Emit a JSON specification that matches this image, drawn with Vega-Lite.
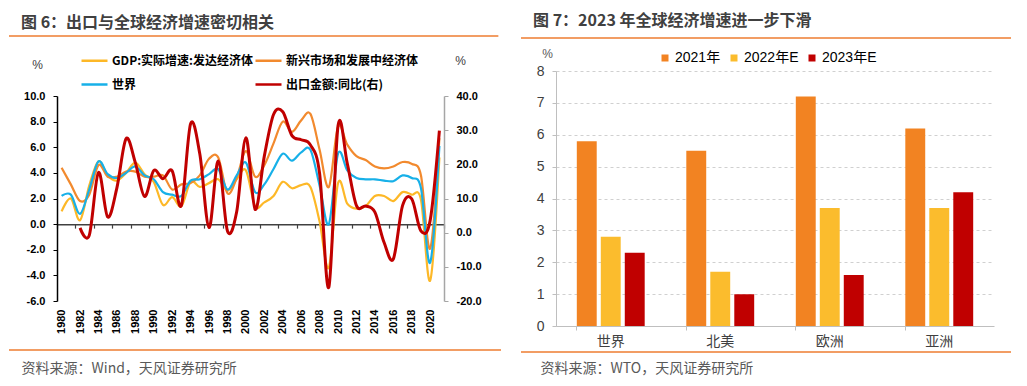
{
  "$schema": "https://vega.github.io/schema/vega-lite/v6.json",
  "background": "white",
  "padding": {"left": 8, "top": 13, "right": 5, "bottom": 5},
  "config": {"view": {"stroke": null}, "axis": {"grid": false}, "font": "Noto Sans CJK SC"},
  "resolve": {"scale": {"color": "independent"}, "legend": {"color": "independent"}},
  "hconcat": [
    {
      "width": 387,
      "height": 205,
      "title": {"text": "图 6：出口与全球经济增速密切相关", "anchor": "start", "frame": "group", "dx": -36, "offset": 4, "fontSize": 16, "fontWeight": "bold", "font": "Noto Sans CJK SC", "color": "#404040"},
      "layer": [
        {
          "data": {"name": "gdp"},
          "mark": {"type": "line", "interpolate": "cardinal", "strokeWidth": 2.2},
          "encoding": {
            "x": {"field": "year", "type": "quantitative", "scale": {"domain": [1979.5, 2021.5], "nice": false, "zero": false},
              "axis": {"orient": "bottom", "values": [1980,1982,1984,1986,1988,1990,1992,1994,1996,1998,2000,2002,2004,2006,2008,2010,2012,2014,2016,2018,2020], "format": "d", "labelAngle": -90, "domain": false, "ticks": false, "tickSize": 0, "labelPadding": 8, "labelFont": "Liberation Sans", "labelFontWeight": "bold", "labelFontSize": 11, "labelColor": "#000000",
                "title": "资料来源：Wind，天风证券研究所", "titleX": -36, "titleY": 67, "titleAnchor": "start", "titleAlign": "left", "titleBaseline": "middle", "titleFont": "Noto Sans CJK SC", "titleFontSize": 14, "titleFontWeight": "normal", "titleColor": "#595959"}},
            "y": {"field": "v", "type": "quantitative", "scale": {"domain": [-6, 10], "nice": false},
              "axis": {"orient": "left", "values": [-6,-4,-2,0,2,4,6,8,10], "labelExpr": "replace(format(datum.value, '.1f'), '−', '-')", "domainColor": "#000000", "domainWidth": 1.5, "tickColor": "#000000", "tickSize": 4, "labelPadding": 8, "labelFont": "Liberation Sans", "labelFontWeight": "bold", "labelFontSize": 11, "labelColor": "#000000",
                "title": "%", "titleAngle": 0, "titleX": -20, "titleY": -32, "titleAlign": "center", "titleBaseline": "middle", "titleFont": "Liberation Sans", "titleFontSize": 12, "titleFontWeight": "normal", "titleColor": "#404040"}},
            "color": {"field": "s", "type": "nominal",
              "scale": {"domain": ["GDP:实际增速:发达经济体", "新兴市场和发展中经济体", "世界", "出口金额:同比(右)"], "range": ["#FDB827", "#F28A2E", "#17B0E8", "#C00000"]},
              "legend": {"orient": "none", "legendX": 23, "legendY": -50, "columns": 2, "direction": "horizontal", "title": null, "symbolType": "stroke", "symbolSize": 676, "symbolStrokeWidth": 2.5, "labelFont": "Noto Sans CJK SC", "labelFontSize": 12, "labelFontWeight": "bold", "labelColor": "#000000", "labelOffset": 3, "columnPadding": -3, "rowPadding": 3, "labelLimit": 300, "padding": 0}}
          }
        },
        {
          "data": {"values": [{}]},
          "mark": {"type": "rule", "color": "#EE7D31", "strokeWidth": 1.5},
          "encoding": {
            "x": {"datum": 1974.29, "type": "quantitative", "scale": {"domain": [1979.5, 2021.5], "nice": false, "zero": false}, "axis": null},
            "x2": {"datum": 2027.4},
            "y": {"datum": 14.6875, "type": "quantitative", "scale": {"domain": [-6, 10], "nice": false}, "axis": null}
          }
        },
        {
          "data": {"values": [{}]},
          "mark": {"type": "rule", "color": "#EE7D31", "strokeWidth": 1.5},
          "encoding": {
            "x": {"datum": 1974.29, "type": "quantitative", "scale": {"domain": [1979.5, 2021.5], "nice": false, "zero": false}, "axis": null},
            "x2": {"datum": 2027.69},
            "y": {"datum": -9.83, "type": "quantitative", "scale": {"domain": [-6, 10], "nice": false}, "axis": null}
          }
        },
        {
          "data": {"name": "exp"},
          "mark": {"type": "line", "interpolate": "cardinal", "strokeWidth": 3},
          "encoding": {
            "x": {"field": "year", "type": "quantitative", "scale": {"domain": [1979.5, 2021.5], "nice": false, "zero": false},
              "axis": {"orient": "bottom", "offset": -76.875, "values": [1979.5,1981.5,1983.5,1985.5,1987.5,1989.5,1991.5,1993.5,1995.5,1997.5,1999.5,2001.5,2003.5,2005.5,2007.5,2009.5,2011.5,2013.5,2015.5,2017.5,2019.5,2021.5], "labels": false, "domain": true, "domainColor": "#404040", "domainWidth": 1.5, "ticks": true, "tickColor": "#404040", "tickSize": 4, "tickWidth": 1.2, "title": null, "grid": false}},
            "y": {"field": "v", "type": "quantitative", "scale": {"domain": [-20, 40], "nice": false},
              "axis": {"orient": "right", "values": [-20,-10,0,10,20,30,40], "labelExpr": "replace(format(datum.value, '.1f'), '−', '-')", "domainColor": "#a6a6a6", "domainWidth": 1.5, "tickColor": "#a6a6a6", "tickSize": 4, "labelPadding": 8, "labelFont": "Liberation Sans", "labelFontWeight": "bold", "labelFontSize": 11, "labelColor": "#000000",
                "title": "%", "titleAngle": 0, "titleX": 16, "titleY": -36, "titleAlign": "center", "titleBaseline": "middle", "titleFont": "Liberation Sans", "titleFontSize": 12, "titleFontWeight": "normal", "titleColor": "#404040"}},
            "color": {"field": "s", "type": "nominal",
              "scale": {"domain": ["GDP:实际增速:发达经济体", "新兴市场和发展中经济体", "世界", "出口金额:同比(右)"], "range": ["#FDB827", "#F28A2E", "#17B0E8", "#C00000"]},
              "legend": {"orient": "none", "legendX": 23, "legendY": -50, "columns": 2, "direction": "horizontal", "title": null, "symbolType": "stroke", "symbolSize": 676, "symbolStrokeWidth": 2.5, "labelFont": "Noto Sans CJK SC", "labelFontSize": 12, "labelFontWeight": "bold", "labelColor": "#000000", "labelOffset": 3, "columnPadding": -3, "rowPadding": 3, "labelLimit": 300, "padding": 0}}
          }
        }
      ],
      "resolve": {"scale": {"y": "independent"}, "axis": {"x": "independent"}}
    },
    {
      "width": 438,
      "height": 255,
      "title": {"text": "图 7：2023 年全球经济增速进一步下滑", "anchor": "start", "frame": "group", "dx": -23, "offset": 8, "fontSize": 16, "fontWeight": "bold", "font": "Noto Sans CJK SC", "color": "#404040"},
      "layer": [
        {
          "data": {"name": "wto"},
          "mark": {"type": "bar"},
          "encoding": {
            "x": {"field": "region", "type": "nominal", "sort": ["世界", "北美", "欧洲", "亚洲"], "scale": {"paddingInner": 0.38, "paddingOuter": 0.19},
              "axis": {"labelAngle": 0, "bandPosition": 0, "domainColor": "#bfbfbf", "tickColor": "#bfbfbf", "tickSize": 4, "labelPadding": 4, "labelFont": "Noto Sans CJK SC", "labelFontSize": 14, "labelColor": "#404040",
                "title": "资料来源：WTO，天风证券研究所", "titleX": -16, "titleY": 42, "titleAnchor": "start", "titleAlign": "left", "titleBaseline": "middle", "titleFont": "Noto Sans CJK SC", "titleFontSize": 14, "titleFontWeight": "normal", "titleColor": "#595959"}},
            "xOffset": {"field": "year", "type": "nominal", "sort": ["2021年", "2022年E", "2023年E"], "scale": {"paddingInner": 0.17, "paddingOuter": 0}},
            "y": {"field": "value", "type": "quantitative", "scale": {"domain": [0, 8], "nice": false},
              "axis": {"values": [0,1,2,3,4,5,6,7,8], "grid": true, "gridColor": "#d0d0d0", "gridDash": [3, 3], "domainColor": "#bfbfbf", "tickColor": "#bfbfbf", "tickSize": 4, "labelPadding": 8, "labelFont": "Liberation Sans", "labelFontSize": 14, "labelColor": "#404040",
                "title": "%", "titleAngle": 0, "titleX": -9, "titleY": -18, "titleAlign": "center", "titleBaseline": "middle", "titleFont": "Liberation Sans", "titleFontSize": 12, "titleFontWeight": "normal", "titleColor": "#595959"}},
            "color": {"field": "year", "type": "nominal", "sort": ["2021年", "2022年E", "2023年E"],
              "scale": {"domain": ["2021年", "2022年E", "2023年E"], "range": ["#F28322", "#FBBC2D", "#C00000"]},
              "legend": {"orient": "none", "legendX": 102, "legendY": -20, "direction": "horizontal", "title": null, "symbolType": "square", "symbolSize": 49, "symbolStrokeWidth": 0, "labelFont": "Liberation Sans, Noto Sans CJK SC", "labelFontSize": 14, "labelColor": "#000000", "labelOffset": 3, "columnPadding": 6, "padding": 0}}
          }
        },
        {
          "data": {"values": [{}]},
          "mark": {"type": "rule", "color": "#EE7D31", "strokeWidth": 1.5},
          "encoding": {
            "x": {"datum": -0.0799, "type": "quantitative", "scale": {"domain": [0, 1], "nice": false, "zero": false}, "axis": null},
            "x2": {"datum": 1.0388},
            "y": {"datum": 9.035, "type": "quantitative", "scale": {"domain": [0, 8], "nice": false},
              "axis": {"values": [0,1,2,3,4,5,6,7,8], "grid": true, "gridColor": "#d0d0d0", "gridDash": [3, 3], "domainColor": "#bfbfbf", "tickColor": "#bfbfbf", "tickSize": 4, "labelPadding": 8, "labelFont": "Liberation Sans", "labelFontSize": 14, "labelColor": "#404040",
                "title": "%", "titleAngle": 0, "titleX": -9, "titleY": -18, "titleAlign": "center", "titleBaseline": "middle", "titleFont": "Liberation Sans", "titleFontSize": 12, "titleFontWeight": "normal", "titleColor": "#595959"}}
          }
        },
        {
          "data": {"values": [{}]},
          "mark": {"type": "rule", "color": "#EE7D31", "strokeWidth": 1.5},
          "encoding": {
            "x": {"datum": -0.0799, "type": "quantitative", "scale": {"domain": [0, 1], "nice": false, "zero": false}, "axis": null},
            "x2": {"datum": 1.0388},
            "y": {"datum": -0.816, "type": "quantitative", "scale": {"domain": [0, 8], "nice": false},
              "axis": {"values": [0,1,2,3,4,5,6,7,8], "grid": true, "gridColor": "#d0d0d0", "gridDash": [3, 3], "domainColor": "#bfbfbf", "tickColor": "#bfbfbf", "tickSize": 4, "labelPadding": 8, "labelFont": "Liberation Sans", "labelFontSize": 14, "labelColor": "#404040",
                "title": "%", "titleAngle": 0, "titleX": -9, "titleY": -18, "titleAlign": "center", "titleBaseline": "middle", "titleFont": "Liberation Sans", "titleFontSize": 12, "titleFontWeight": "normal", "titleColor": "#595959"}}
          }
        }
      ],
      "resolve": {"scale": {"x": "independent"}}
    }
  ],
  "spacing": 112,
  "bounds": "flush",
  "center": true,
  "datasets": {
    "wto": [
      {"region": "世界", "year": "2021年", "value": 5.8},
      {"region": "世界", "year": "2022年E", "value": 2.8},
      {"region": "世界", "year": "2023年E", "value": 2.3},
      {"region": "北美", "year": "2021年", "value": 5.5},
      {"region": "北美", "year": "2022年E", "value": 1.7},
      {"region": "北美", "year": "2023年E", "value": 1.0},
      {"region": "欧洲", "year": "2021年", "value": 7.2},
      {"region": "欧洲", "year": "2022年E", "value": 3.7},
      {"region": "欧洲", "year": "2023年E", "value": 1.6},
      {"region": "亚洲", "year": "2021年", "value": 6.2},
      {"region": "亚洲", "year": "2022年E", "value": 3.7},
      {"region": "亚洲", "year": "2023年E", "value": 4.2}
    ],
    "exp": [
      {"year": 1982, "s": "出口金额:同比(右)", "v": 1.4},
      {"year": 1983, "s": "出口金额:同比(右)", "v": -0.8},
      {"year": 1984, "s": "出口金额:同比(右)", "v": 17.6},
      {"year": 1985, "s": "出口金额:同比(右)", "v": 4.6},
      {"year": 1986, "s": "出口金额:同比(右)", "v": 13.1},
      {"year": 1987, "s": "出口金额:同比(右)", "v": 27.5},
      {"year": 1988, "s": "出口金额:同比(右)", "v": 20.5},
      {"year": 1989, "s": "出口金额:同比(右)", "v": 10.6},
      {"year": 1990, "s": "出口金额:同比(右)", "v": 18.2},
      {"year": 1991, "s": "出口金额:同比(右)", "v": 15.8},
      {"year": 1992, "s": "出口金额:同比(右)", "v": 18.1},
      {"year": 1993, "s": "出口金额:同比(右)", "v": 8.0},
      {"year": 1994, "s": "出口金额:同比(右)", "v": 31.9},
      {"year": 1995, "s": "出口金额:同比(右)", "v": 23.0},
      {"year": 1996, "s": "出口金额:同比(右)", "v": 1.5},
      {"year": 1997, "s": "出口金额:同比(右)", "v": 21.0},
      {"year": 1998, "s": "出口金额:同比(右)", "v": 0.5},
      {"year": 1999, "s": "出口金额:同比(右)", "v": 6.1},
      {"year": 2000, "s": "出口金额:同比(右)", "v": 27.8},
      {"year": 2001, "s": "出口金额:同比(右)", "v": 6.8},
      {"year": 2002, "s": "出口金额:同比(右)", "v": 22.4},
      {"year": 2003, "s": "出口金额:同比(右)", "v": 34.6},
      {"year": 2004, "s": "出口金额:同比(右)", "v": 35.4},
      {"year": 2005, "s": "出口金额:同比(右)", "v": 28.4},
      {"year": 2006, "s": "出口金额:同比(右)", "v": 27.2},
      {"year": 2007, "s": "出口金额:同比(右)", "v": 25.7},
      {"year": 2008, "s": "出口金额:同比(右)", "v": 17.3},
      {"year": 2009, "s": "出口金额:同比(右)", "v": -16.0},
      {"year": 2010, "s": "出口金额:同比(右)", "v": 31.3},
      {"year": 2011, "s": "出口金额:同比(右)", "v": 20.3},
      {"year": 2012, "s": "出口金额:同比(右)", "v": 7.9},
      {"year": 2013, "s": "出口金额:同比(右)", "v": 7.8},
      {"year": 2014, "s": "出口金额:同比(右)", "v": 6.0},
      {"year": 2015, "s": "出口金额:同比(右)", "v": -2.9},
      {"year": 2016, "s": "出口金额:同比(右)", "v": -7.7},
      {"year": 2017, "s": "出口金额:同比(右)", "v": 7.9},
      {"year": 2018, "s": "出口金额:同比(右)", "v": 9.9},
      {"year": 2019, "s": "出口金额:同比(右)", "v": 0.5},
      {"year": 2020, "s": "出口金额:同比(右)", "v": 3.6},
      {"year": 2021, "s": "出口金额:同比(右)", "v": 29.9}
    ],
    "gdp": [
      {"year": 1980, "s": "GDP:实际增速:发达经济体", "v": 1.0},
      {"year": 1981, "s": "GDP:实际增速:发达经济体", "v": 2.0},
      {"year": 1982, "s": "GDP:实际增速:发达经济体", "v": 0.3},
      {"year": 1983, "s": "GDP:实际增速:发达经济体", "v": 3.0},
      {"year": 1984, "s": "GDP:实际增速:发达经济体", "v": 4.9},
      {"year": 1985, "s": "GDP:实际增速:发达经济体", "v": 3.8},
      {"year": 1986, "s": "GDP:实际增速:发达经济体", "v": 3.4},
      {"year": 1987, "s": "GDP:实际增速:发达经济体", "v": 4.0},
      {"year": 1988, "s": "GDP:实际增速:发达经济体", "v": 4.8},
      {"year": 1989, "s": "GDP:实际增速:发达经济体", "v": 3.9},
      {"year": 1990, "s": "GDP:实际增速:发达经济体", "v": 3.3},
      {"year": 1991, "s": "GDP:实际增速:发达经济体", "v": 1.5},
      {"year": 1992, "s": "GDP:实际增速:发达经济体", "v": 2.1},
      {"year": 1993, "s": "GDP:实际增速:发达经济体", "v": 1.4},
      {"year": 1994, "s": "GDP:实际增速:发达经济体", "v": 3.3},
      {"year": 1995, "s": "GDP:实际增速:发达经济体", "v": 2.9},
      {"year": 1996, "s": "GDP:实际增速:发达经济体", "v": 3.2},
      {"year": 1997, "s": "GDP:实际增速:发达经济体", "v": 3.5},
      {"year": 1998, "s": "GDP:实际增速:发达经济体", "v": 2.6},
      {"year": 1999, "s": "GDP:实际增速:发达经济体", "v": 3.5},
      {"year": 2000, "s": "GDP:实际增速:发达经济体", "v": 4.2},
      {"year": 2001, "s": "GDP:实际增速:发达经济体", "v": 1.4},
      {"year": 2002, "s": "GDP:实际增速:发达经济体", "v": 1.7},
      {"year": 2003, "s": "GDP:实际增速:发达经济体", "v": 2.2},
      {"year": 2004, "s": "GDP:实际增速:发达经济体", "v": 3.3},
      {"year": 2005, "s": "GDP:实际增速:发达经济体", "v": 2.8},
      {"year": 2006, "s": "GDP:实际增速:发达经济体", "v": 3.05},
      {"year": 2007, "s": "GDP:实际增速:发达经济体", "v": 2.9},
      {"year": 2008, "s": "GDP:实际增速:发达经济体", "v": 0.2},
      {"year": 2009, "s": "GDP:实际增速:发达经济体", "v": -3.4},
      {"year": 2010, "s": "GDP:实际增速:发达经济体", "v": 3.2},
      {"year": 2011, "s": "GDP:实际增速:发达经济体", "v": 1.6},
      {"year": 2012, "s": "GDP:实际增速:发达经济体", "v": 1.2},
      {"year": 2013, "s": "GDP:实际增速:发达经济体", "v": 1.4},
      {"year": 2014, "s": "GDP:实际增速:发达经济体", "v": 2.2},
      {"year": 2015, "s": "GDP:实际增速:发达经济体", "v": 2.2},
      {"year": 2016, "s": "GDP:实际增速:发达经济体", "v": 1.8},
      {"year": 2017, "s": "GDP:实际增速:发达经济体", "v": 2.5},
      {"year": 2018, "s": "GDP:实际增速:发达经济体", "v": 2.3},
      {"year": 2019, "s": "GDP:实际增速:发达经济体", "v": 1.9},
      {"year": 2020, "s": "GDP:实际增速:发达经济体", "v": -4.4},
      {"year": 2021, "s": "GDP:实际增速:发达经济体", "v": 5.2},
      {"year": 1980, "s": "新兴市场和发展中经济体", "v": 4.4},
      {"year": 1981, "s": "新兴市场和发展中经济体", "v": 3.1},
      {"year": 1982, "s": "新兴市场和发展中经济体", "v": 1.8},
      {"year": 1983, "s": "新兴市场和发展中经济体", "v": 2.3},
      {"year": 1984, "s": "新兴市场和发展中经济体", "v": 4.6},
      {"year": 1985, "s": "新兴市场和发展中经济体", "v": 3.7},
      {"year": 1986, "s": "新兴市场和发展中经济体", "v": 3.7},
      {"year": 1987, "s": "新兴市场和发展中经济体", "v": 4.1},
      {"year": 1988, "s": "新兴市场和发展中经济体", "v": 4.1},
      {"year": 1989, "s": "新兴市场和发展中经济体", "v": 3.7},
      {"year": 1990, "s": "新兴市场和发展中经济体", "v": 3.7},
      {"year": 1991, "s": "新兴市场和发展中经济体", "v": 3.8},
      {"year": 1992, "s": "新兴市场和发展中经济体", "v": 2.7},
      {"year": 1993, "s": "新兴市场和发展中经济体", "v": 3.1},
      {"year": 1994, "s": "新兴市场和发展中经济体", "v": 3.2},
      {"year": 1995, "s": "新兴市场和发展中经济体", "v": 3.8},
      {"year": 1996, "s": "新兴市场和发展中经济体", "v": 5.1},
      {"year": 1997, "s": "新兴市场和发展中经济体", "v": 5.2},
      {"year": 1998, "s": "新兴市场和发展中经济体", "v": 2.4},
      {"year": 1999, "s": "新兴市场和发展中经济体", "v": 3.6},
      {"year": 2000, "s": "新兴市场和发展中经济体", "v": 5.7},
      {"year": 2001, "s": "新兴市场和发展中经济体", "v": 3.7},
      {"year": 2002, "s": "新兴市场和发展中经济体", "v": 4.6},
      {"year": 2003, "s": "新兴市场和发展中经济体", "v": 6.3},
      {"year": 2004, "s": "新兴市场和发展中经济体", "v": 8.0},
      {"year": 2005, "s": "新兴市场和发展中经济体", "v": 7.2},
      {"year": 2006, "s": "新兴市场和发展中经济体", "v": 8.1},
      {"year": 2007, "s": "新兴市场和发展中经济体", "v": 8.6},
      {"year": 2008, "s": "新兴市场和发展中经济体", "v": 5.8},
      {"year": 2009, "s": "新兴市场和发展中经济体", "v": 2.9},
      {"year": 2010, "s": "新兴市场和发展中经济体", "v": 7.6},
      {"year": 2011, "s": "新兴市场和发展中经济体", "v": 6.2},
      {"year": 2012, "s": "新兴市场和发展中经济体", "v": 5.3},
      {"year": 2013, "s": "新兴市场和发展中经济体", "v": 5.0},
      {"year": 2014, "s": "新兴市场和发展中经济体", "v": 4.5},
      {"year": 2015, "s": "新兴市场和发展中经济体", "v": 4.35},
      {"year": 2016, "s": "新兴市场和发展中经济体", "v": 4.5},
      {"year": 2017, "s": "新兴市场和发展中经济体", "v": 4.85},
      {"year": 2018, "s": "新兴市场和发展中经济体", "v": 4.7},
      {"year": 2019, "s": "新兴市场和发展中经济体", "v": 3.8},
      {"year": 2020, "s": "新兴市场和发展中经济体", "v": -1.9},
      {"year": 2021, "s": "新兴市场和发展中经济体", "v": 6.7},
      {"year": 1980, "s": "世界", "v": 2.2},
      {"year": 1981, "s": "世界", "v": 2.3},
      {"year": 1982, "s": "世界", "v": 0.8},
      {"year": 1983, "s": "世界", "v": 2.7},
      {"year": 1984, "s": "世界", "v": 4.9},
      {"year": 1985, "s": "世界", "v": 3.9},
      {"year": 1986, "s": "世界", "v": 3.6},
      {"year": 1987, "s": "世界", "v": 4.0},
      {"year": 1988, "s": "世界", "v": 4.5},
      {"year": 1989, "s": "世界", "v": 3.8},
      {"year": 1990, "s": "世界", "v": 3.5},
      {"year": 1991, "s": "世界", "v": 2.5},
      {"year": 1992, "s": "世界", "v": 2.3},
      {"year": 1993, "s": "世界", "v": 2.2},
      {"year": 1994, "s": "世界", "v": 3.4},
      {"year": 1995, "s": "世界", "v": 3.5},
      {"year": 1996, "s": "世界", "v": 3.9},
      {"year": 1997, "s": "世界", "v": 4.3},
      {"year": 1998, "s": "世界", "v": 2.7},
      {"year": 1999, "s": "世界", "v": 3.8},
      {"year": 2000, "s": "世界", "v": 4.8},
      {"year": 2001, "s": "世界", "v": 2.5},
      {"year": 2002, "s": "世界", "v": 3.1},
      {"year": 2003, "s": "世界", "v": 4.3},
      {"year": 2004, "s": "世界", "v": 5.5},
      {"year": 2005, "s": "世界", "v": 4.95},
      {"year": 2006, "s": "世界", "v": 5.6},
      {"year": 2007, "s": "世界", "v": 5.8},
      {"year": 2008, "s": "世界", "v": 3.0},
      {"year": 2009, "s": "世界", "v": 0.0},
      {"year": 2010, "s": "世界", "v": 5.5},
      {"year": 2011, "s": "世界", "v": 4.2},
      {"year": 2012, "s": "世界", "v": 3.6},
      {"year": 2013, "s": "世界", "v": 3.5},
      {"year": 2014, "s": "世界", "v": 3.5},
      {"year": 2015, "s": "世界", "v": 3.4},
      {"year": 2016, "s": "世界", "v": 3.35},
      {"year": 2017, "s": "世界", "v": 3.8},
      {"year": 2018, "s": "世界", "v": 3.6},
      {"year": 2019, "s": "世界", "v": 2.8},
      {"year": 2020, "s": "世界", "v": -3.0},
      {"year": 2021, "s": "世界", "v": 6.1}
    ]
  }
}
